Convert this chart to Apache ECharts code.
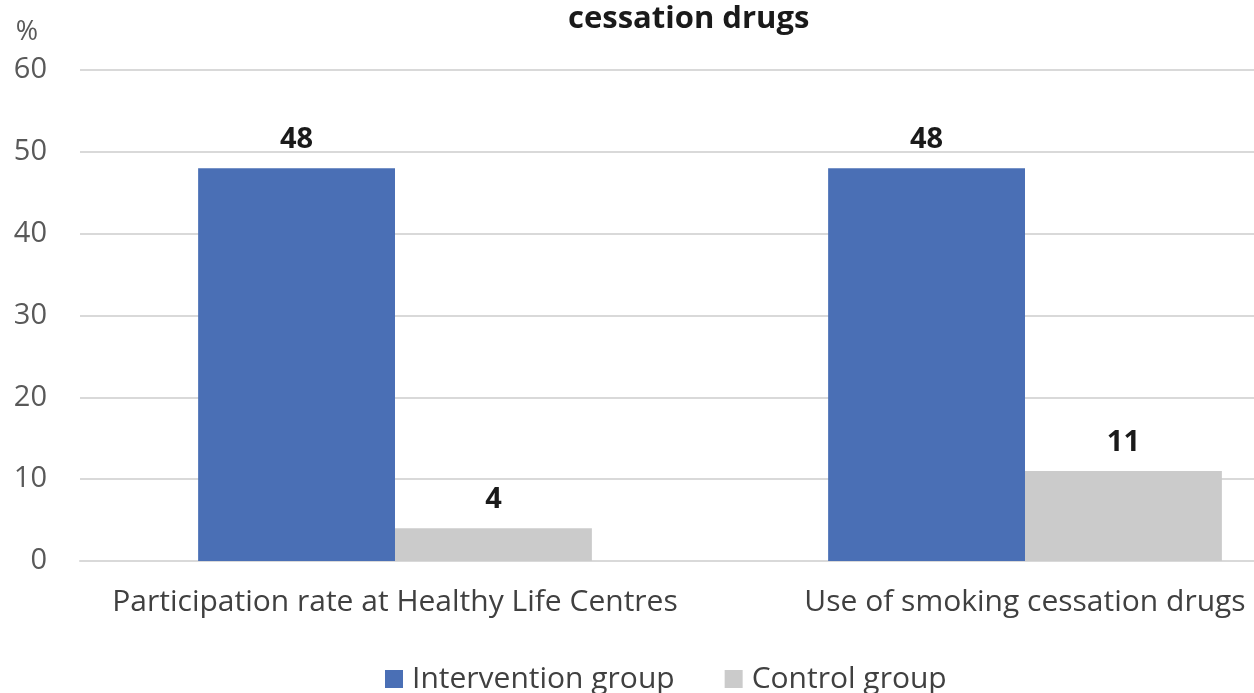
<!DOCTYPE html>
<html>
<head>
<meta charset="utf-8">
<title>Participation and use of smoking cessation drugs</title>
<script src="https://cdn.jsdelivr.net/npm/echarts@6/dist/echarts.min.js"></script>
<style>
  html, body { margin: 0; padding: 0; background: #ffffff; overflow: hidden; width: 1254px; height: 693px; }
  /* The plot continues past the right edge of the page; the wider canvas is clipped by the body. */
  #chart { width: 1340px; height: 693px; }
</style>
</head>
<body>
<div id="chart"></div>
<script>
// Outcome categories along the x axis
const categories = ['Participation rate at Healthy Life Centres', 'Use of smoking cessation drugs'];
// Percentages per group
const interventionValues = [48, 48];
const controlValues = [4, 11];
// Value axis range (%)
const yMin = 0;
const yMax = 60;
const yStep = 10;

const FONT = '"Open Sans", Lato, sans-serif';

const chart = echarts.init(document.getElementById('chart'), null, { renderer: 'canvas' });

chart.setOption({
  backgroundColor: '#ffffff',
  animation: false,
  textStyle: { fontFamily: FONT },
  title: {
    text: 'cessation drugs',
    left: 568,
    top: 4,
    padding: 0,
    textStyle: { fontFamily: FONT, fontSize: 31, fontWeight: 'bold', color: '#1a1a1a' }
  },
  grid: { left: 80, right: 0, top: 70, bottom: 132, containLabel: false },
  legend: {
    left: 385,
    top: 664,
    padding: 0,
    itemWidth: 18,
    itemHeight: 18,
    itemGap: 50,
    icon: 'rect',
    textStyle: { fontFamily: FONT, fontSize: 30, color: '#404040', padding: [0, 0, 0, 4] },
    data: ['Intervention group', 'Control group']
  },
  xAxis: {
    type: 'category',
    data: categories,
    axisLine: { show: true, lineStyle: { color: '#d9d9d9', width: 2 } },
    axisTick: { show: false },
    axisLabel: { fontFamily: FONT, fontSize: 30, color: '#404040', margin: 26, interval: 0 }
  },
  yAxis: {
    type: 'value',
    min: yMin,
    max: yMax,
    interval: yStep,
    name: '%',
    nameLocation: 'end',
    nameGap: 24,
    nameTextStyle: { fontFamily: FONT, fontSize: 27, color: '#595959', align: 'right', padding: [0, 42, 0, 0] },
    axisLine: { show: false },
    axisTick: { show: false },
    axisLabel: { fontFamily: FONT, fontSize: 29, color: '#595959', margin: 33 },
    splitLine: { lineStyle: { color: '#d9d9d9', width: 2 } }
  },
  series: [
    {
      name: 'Intervention group',
      type: 'bar',
      data: interventionValues,
      barGap: '0%',
      barCategoryGap: '37.5%',
      itemStyle: { color: '#4a6fb5' },
      label: {
        show: true, position: 'top', distance: 14,
        fontFamily: FONT, fontSize: 29, fontWeight: 'bold', color: '#1a1a1a'
      }
    },
    {
      name: 'Control group',
      type: 'bar',
      data: controlValues,
      barGap: '0%',
      barCategoryGap: '37.5%',
      itemStyle: { color: '#cbcbcb' },
      label: {
        show: true, position: 'top', distance: 14,
        fontFamily: FONT, fontSize: 29, fontWeight: 'bold', color: '#1a1a1a'
      }
    }
  ]
});
</script>
</body>
</html>
